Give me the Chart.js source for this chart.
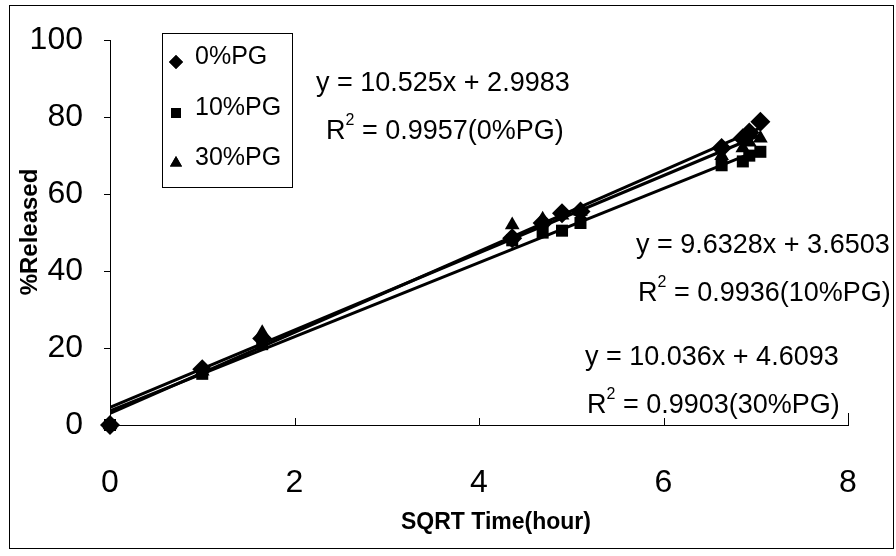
<!DOCTYPE html>
<html>
<head>
<meta charset="utf-8">
<script src="https://cdn.jsdelivr.net/npm/chart.js@4.4.1/dist/chart.umd.min.js"></script>
<style>
  html, body { margin: 0; padding: 0; background: #fff; }
  #wrap { width: 896px; height: 556px; }
</style>
</head>
<body>
<div id="wrap"><canvas id="c" width="896" height="556"></canvas></div>
<script>
// data
const sqrtTime = [0, 1, 1.65, 4.36, 4.69, 4.9, 5.1, 6.63, 6.86, 6.93, 7.05];
const pg0  = [0, 14.5, 22.5, 48.5, 52.5, 55, 55.5, 72, 74.5, 76, 78.8];
const pg10 = [0, 13.3, 21, 48, 50, 50.5, 52.5, 67.5, 68.5, 70, 71];
const pg30 = [0, 14, 24, 52, 53.5, 54.5, 55.5, 70, 72, 73.5, 74.5];
const seriesNames = ['0%PG', '10%PG', '30%PG'];
const slopes = [10.525, 9.6328, 10.036];
const intercepts = [2.9983, 3.6503, 4.6093];
const r2 = ['0.9957', '0.9936', '0.9903'];
const xTicks = [0, 2, 4, 6, 8];

const FONT = "'Liberation Sans', Arial, sans-serif";
const styles = ['rectRot', 'rect', 'triangle'];
const radii = [10, 8.5, 8.5];
const drawOrder = [2, 1, 3]; // squares end up on top at the origin
const allY = [pg0, pg10, pg30];

const pts = ys => sqrtTime.map((x, i) => ({ x, y: ys[i] }));
const xMin = Math.min(...sqrtTime), xMax = Math.max(...sqrtTime);
const trend = k => [xMin, xMax].map(x => ({ x, y: slopes[k] * x + intercepts[k] }));

const datasets = [];
allY.forEach((ys, k) => {
    datasets.push({ type: 'line', data: trend(k), borderColor: '#000', borderWidth: 3, pointRadius: 0, fill: false, order: 0 });
});
allY.forEach((ys, k) => {
    datasets.push({ label: seriesNames[k], data: pts(ys), pointStyle: styles[k], pointRadius: radii[k],
        backgroundColor: '#000', borderColor: '#000', borderWidth: 0, showLine: false, clip: false, order: drawOrder[k] });
});

// equation labels: [left x, first line middle y]
const eqPos = [[316, 84], [636, 246], [585, 358]];

const deco = {
    id: 'deco',
    beforeDraw(chart) {
        const ctx = chart.ctx;
        ctx.save();
        ctx.fillStyle = '#fff';
        ctx.fillRect(0, 0, chart.width, chart.height);
        ctx.restore();
    },
    afterDraw(chart) {
        const ctx = chart.ctx;
        const xs = chart.scales.x, ys = chart.scales.y;
        ctx.save();
        ctx.strokeStyle = '#000';
        ctx.lineWidth = 1;
        // outer frame
        ctx.strokeRect(9.5, 5.5, 884, 543);
        // x ticks pointing up
        const base = ys.getPixelForValue(0);
        xTicks.forEach(v => {
            const px = Math.round(xs.getPixelForValue(v)) + 0.5;
            ctx.beginPath();
            ctx.moveTo(px, base);
            ctx.lineTo(px, base - (v === 8 ? 12 : 7));
            ctx.stroke();
        });
        ctx.fillStyle = '#000';
        // axis titles
        ctx.font = 'bold 23px ' + FONT;
        ctx.textAlign = 'center';
        ctx.textBaseline = 'middle';
        ctx.fillText('SQRT Time(hour)', 496, 523);
        ctx.save();
        ctx.translate(30, 232);
        ctx.rotate(-Math.PI / 2);
        ctx.font = 'bold 24px ' + FONT;
        ctx.fillText('%Released', 0, 0);
        ctx.restore();

        // legend
        ctx.strokeRect(162.5, 33.5, 130, 154);
        const rows = [57, 108, 158];
        ctx.textAlign = 'left';
        ctx.font = '25px ' + FONT;
        seriesNames.forEach((n, k) => {
            Chart.helpers.drawPoint(ctx, { pointStyle: styles[k], radius: 7, rotation: 0, borderWidth: 0 }, 176, rows[k] + 5);
            ctx.fill();
            ctx.fillText(n, 195, rows[k]);
        });

        // trend line equations
        eqPos.forEach(([x, y], k) => {
            ctx.font = '27px ' + FONT;
            ctx.fillText('y = ' + slopes[k] + 'x + ' + intercepts[k], x, y);
            const y2 = y + 48;
            const x2 = x + (k === 0 ? 10 : 2);
            ctx.fillText('R', x2, y2);
            const wR = ctx.measureText('R').width;
            ctx.font = '16px ' + FONT;
            ctx.fillText('2', x2 + wR, y2 - 11);
            const w2 = ctx.measureText('2').width;
            ctx.font = '27px ' + FONT;
            ctx.fillText(' = ' + r2[k] + '(' + seriesNames[k] + ')', x2 + wR + w2, y2);
        });
        ctx.restore();
    }
};

new Chart(document.getElementById('c'), {
    type: 'scatter',
    data: { datasets },
    options: {
        responsive: false,
        animation: false,
        events: [],
        layout: { padding: { left: 0, top: 38, right: 48, bottom: 0 } },
        plugins: { legend: { display: false }, tooltip: { enabled: false } },
        scales: {
            x: {
                type: 'linear', min: 0, max: 8,
                afterFit: s => { s.height = 131; },
                afterBuildTicks: s => { s.ticks = xTicks.map(v => ({ value: v })); },
                grid: { display: false, drawTicks: false },
                border: { display: true, color: '#000', width: 1 },
                ticks: { color: '#000', padding: 39, maxRotation: 0, font: { family: FONT, size: 32 } }
            },
            y: {
                min: 0, max: 100,
                afterFit: s => { s.width = 110; },
                grid: { drawOnChartArea: false, drawTicks: true, tickLength: 6, color: '#000' },
                border: { display: true, color: '#000', width: 1 },
                ticks: { stepSize: 20, color: '#000', padding: 21, font: { family: FONT, size: 32 } }
            }
        }
    },
    plugins: [deco]
});
</script>
</body>
</html>
